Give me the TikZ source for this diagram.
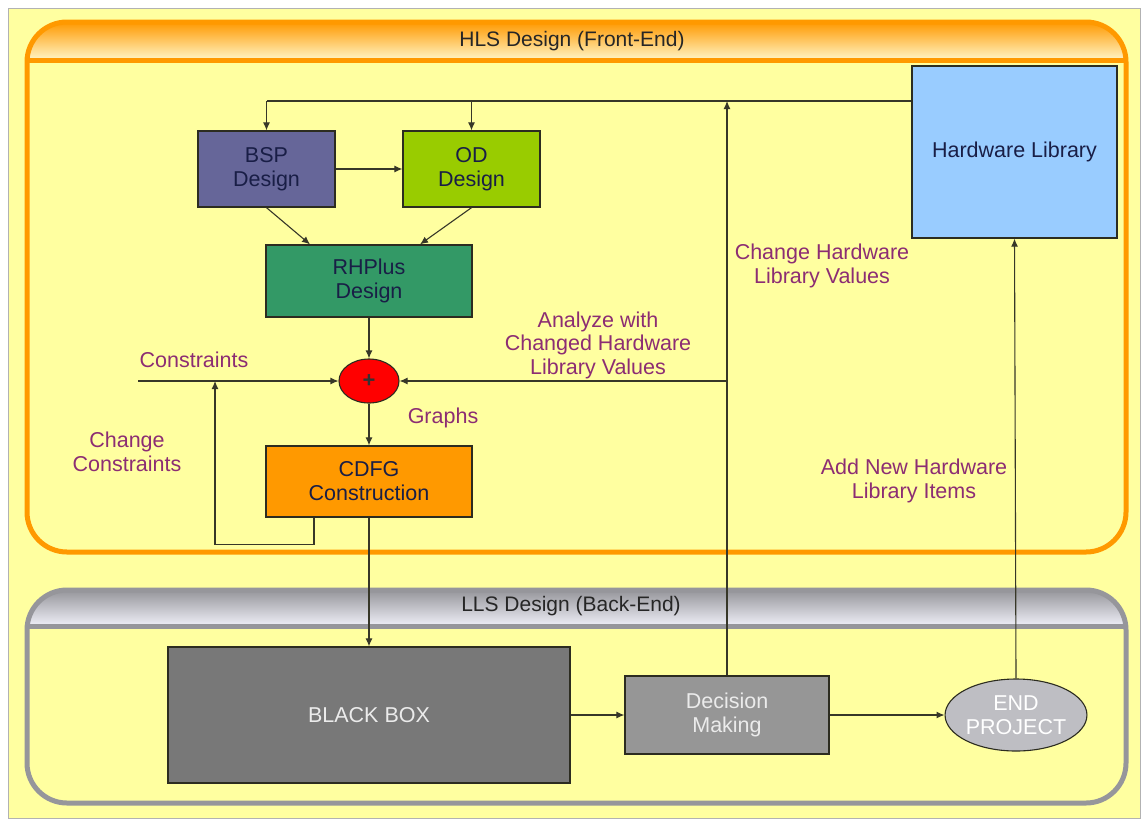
\documentclass[tikz,border=0pt]{standalone}
\usepackage{fontspec}
\setmainfont{Liberation Sans}
\usetikzlibrary{shapes.geometric,arrows.meta,calc}

\definecolor{pagebg}{RGB}{255,255,160}
\definecolor{hlsorange}{RGB}{255,153,0}
\definecolor{hlspale}{RGB}{255,246,200}
\definecolor{llsgray}{RGB}{150,150,155}
\definecolor{llspale}{RGB}{240,240,248}
\definecolor{bspfill}{RGB}{102,102,153}
\definecolor{odfill}{RGB}{153,204,0}
\definecolor{rhfill}{RGB}{51,153,102}
\definecolor{cdfgfill}{RGB}{255,153,0}
\definecolor{hwfill}{RGB}{153,204,255}
\definecolor{bbfill}{RGB}{120,120,120}
\definecolor{decfill}{RGB}{150,150,150}
\definecolor{endfill}{RGB}{190,190,195}
\definecolor{boxtext}{RGB}{25,30,70}
\definecolor{labeltext}{RGB}{140,45,115}
\definecolor{wire}{RGB}{55,55,40}

\tikzset{
  block/.style={draw=wire!80!black, line width=1.3pt, align=center,
    font=\fontsize{21.5}{24}\selectfont, text=boxtext, inner sep=2pt},
  lbl/.style={align=center, text=labeltext, font=\fontsize{21.5}{23.5}\selectfont},
  ttl/.style={font=\fontsize{21}{24}\selectfont, text=black!85},
  wireline/.style={draw=wire, line width=1.1pt},
  arr/.style={wireline, -{Latex[length=8pt,width=7pt]}},
}

\begin{document}
\begin{tikzpicture}[x=1pt,y=-1pt]
  \useasboundingbox (0,0) rectangle (1142,820);
  \fill[white] (0,0) rectangle (1142,820);
  \draw[fill=pagebg, draw=black!30, line width=1pt] (8,8) rectangle (1140,818);

  % HLS front-end frame
  \shade[top color=hlsorange, bottom color=hlspale]
    (27,60) [rounded corners=40pt] -- (27,22) -- (1126,22) [sharp corners] -- (1126,60) -- cycle;
  \draw[hlsorange, line width=5pt] (27,60) -- (1126,60);
  \draw[hlsorange, line width=5pt, rounded corners=40pt] (27,22) rectangle (1126,552);
  \node[ttl] (hlstitle) at (572,41) {HLS Design (Front-End)};

  % LLS back-end frame
  \shade[top color=llsgray, bottom color=llspale]
    (27,626) [rounded corners=40pt] -- (27,590) -- (1126,590) [sharp corners] -- (1126,626) -- cycle;
  \draw[llsgray, line width=5pt] (27,626) -- (1126,626);
  \draw[llsgray, line width=5pt, rounded corners=40pt] (27,590) rectangle (1126,803);
  \node[ttl] (llstitle) at (571,606) {LLS Design (Back-End)};

  % blocks
  \node[block, fill=bspfill, minimum width=137pt, minimum height=76pt] (bsp) at (266.5,169) {BSP\\Design};
  \node[block, fill=odfill, minimum width=137pt, minimum height=76pt] (od) at (471.5,169) {OD\\Design};
  \node[block, fill=rhfill, minimum width=206pt, minimum height=72pt] (rh) at (369,281) {RHPlus\\Design};
  \node[block, fill=cdfgfill, minimum width=206pt, minimum height=71pt] (cdfg) at (369,481.5) {CDFG\\Construction};
  \node[block, fill=hwfill, minimum width=205pt, minimum height=172pt] (hwl) at (1014.5,152) {Hardware Library};
  \node[ellipse, draw=wire!80!black, line width=1.1pt, fill=red, minimum width=60pt, minimum height=44pt,
        inner sep=0pt, font=\fontsize{22}{22}\selectfont\bfseries, text=black!80] (plus) at (369,381) {+};

  \node[block, fill=bbfill, text=black!8, minimum width=402pt, minimum height=136pt] (bb) at (369,715) {BLACK BOX};
  \node[block, fill=decfill, text=black!8, minimum width=204pt, minimum height=78pt] (dec) at (727,715) {Decision\\Making};
  \node[ellipse, draw=wire!80!black, line width=1.1pt, fill=endfill, text=white, align=center,
        minimum width=136pt, minimum height=72pt, inner sep=0pt,
        font=\fontsize{21.5}{24}\selectfont] (endp) at (1016,715) {END\\PROJECT};

  % junction points of the wiring
  \coordinate (topbsp) at (266.5,101);
  \coordinate (topod) at (471.5,101);
  \coordinate (topup) at (727,101);
  \coordinate (cstart) at (138,381);
  \coordinate (fbin) at (215,381);

  % library feed to the design blocks
  \draw[wireline] (hwl.west |- topbsp) -- (topbsp);
  \draw[arr] (topbsp) -- (bsp.north);
  \draw[arr] (topod) -- (od.north);
  \draw[arr] (bsp.east) -- (od.west);
  \draw[arr] (bsp.south) -- ($(rh.north)+(-59,0)$);
  \draw[arr] (od.south) -- ($(rh.north)+(51,0)$);
  \draw[arr] (rh.south) -- (plus.north);
  \draw[arr] (cstart) -- (plus.west);
  \draw[arr] (plus.south) -- (cdfg.north);
  \draw[arr] ($(cdfg.south)+(-55,0)$) -- ++(0,27) -| (fbin);
  \draw[arr] (cdfg.south) -- (bb.north);

  % back-end flow
  \draw[arr] (bb.east) -- (dec.west);
  \draw[arr] (dec.east) -- (endp.west);
  \draw[arr] (dec.north) -- (topup);
  \draw[arr] (dec.north |- plus) -- (plus.east);
  \draw[arr] (endp.north) -- (hwl.south);

  % labels
  \node[lbl] (lcons) at (194,360) {Constraints};
  \node[lbl] (lchcons) at (127,452) {Change\\Constraints};
  \node[lbl] (lgraphs) at (443,418) {Graphs};
  \node[lbl] (lanalyze) at (598,345) {Analyze with\\Changed Hardware\\Library Values};
  \node[lbl] (lchhw) at (822,266) {Change Hardware\\Library Values};
  \node[lbl] (laddhw) at (914,481) {Add New Hardware\\Library Items};
\end{tikzpicture}
\end{document}
